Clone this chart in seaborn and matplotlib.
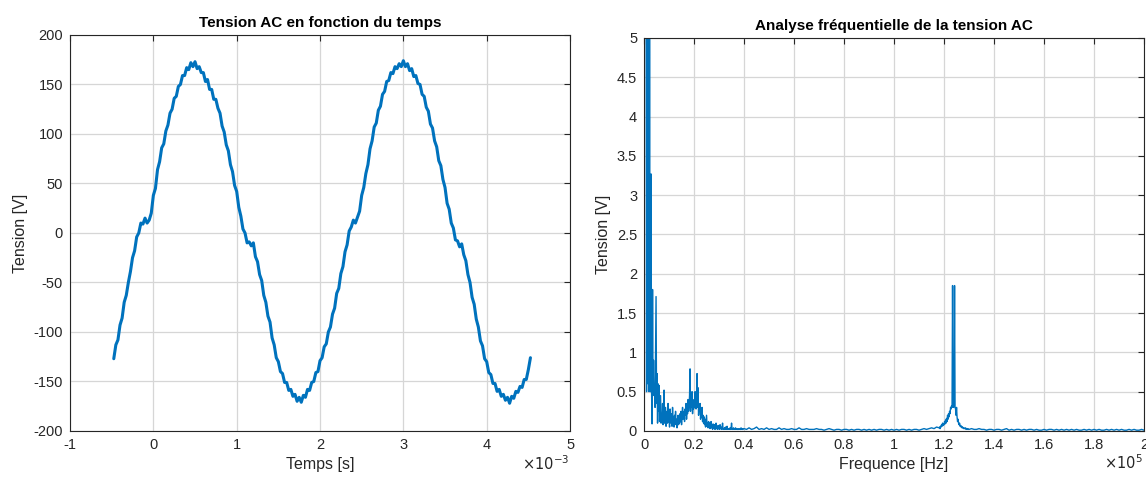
import numpy as np
import pandas as pd
import matplotlib
matplotlib.use("Agg")
import matplotlib.pyplot as plt
import seaborn as sns
from matplotlib.ticker import FuncFormatter, MultipleLocator

# ================================
# Tension AC (V), echantillons toutes les 0.025 ms de -0.475 ms a 4.525 ms
# ================================
t_debut, t_fin = -0.475e-3, 4.525e-3
tension = [
    -127, -113, -108, -93, -86, -70, -63, -50, -39, -25,
    -18, -4, 0, 10, 9, 15, 10, 13, 20, 38,
    45, 64, 72, 86, 90, 103, 109, 121, 125, 136,
    138, 148, 150, 159, 159, 167, 165, 172, 168, 173,
    166, 168, 162, 162, 153, 155, 145, 145, 135, 135,
    126, 121, 108, 102, 89, 83, 69, 62, 48, 42,
    26, 17, 4, 0, -10, -9, -13, -10, -24, -29,
    -42, -48, -63, -70, -84, -90, -106, -113, -126, -130,
    -140, -142, -151, -151, -159, -158, -165, -163, -170, -166,
    -171, -164, -166, -158, -159, -151, -150, -141, -140, -129,
    -126, -115, -112, -100, -95, -82, -76, -61, -56, -41,
    -34, -19, -12, 2, 6, 13, 10, 16, 22, 38,
    46, 60, 69, 85, 93, 107, 111, 124, 128, 140,
    143, 153, 154, 162, 161, 168, 166, 171, 168, 174,
    168, 171, 164, 166, 158, 159, 151, 150, 140, 138,
    127, 123, 110, 106, 93, 87, 73, 68, 54, 46,
    30, 24, 10, 5, -7, -8, -14, -11, -22, -28,
    -42, -50, -65, -72, -87, -95, -109, -114, -127, -130,
    -141, -143, -152, -152, -160, -158, -165, -163, -169, -166,
    -172, -165, -167, -160, -161, -155, -156, -148, -148, -138,
    -126,
]

# ================================
# Spectre (V) : 0-40 kHz pas 200 Hz, 40-117 kHz pas 1 kHz,
# 118-130 kHz pas 200 Hz, 130-200 kHz pas 1 kHz
# ================================
spectre_bas = [
    0.5, 8.5, 172.0, 9.0, 6.5, 0.5, 7.5, 5.6, 0.6, 6.2,
    0.5, 5.4, 0.9, 0.5, 3.27, 0.5, 0.09, 1.8, 0.5, 0.9,
    0.45, 0.6, 0.3, 1.0, 1.71, 0.35, 0.73, 0.1, 0.6, 0.25,
    0.58, 0.12, 0.3, 0.45, 0.1, 0.22, 0.15, 0.35, 0.08, 0.25,
    0.52, 0.1, 0.2, 0.3, 0.06, 0.18, 0.25, 0.1, 0.35, 0.12,
    0.2, 0.05, 0.28, 0.15, 0.1, 0.22, 0.06, 0.3, 0.12, 0.18,
    0.05, 0.2, 0.1, 0.25, 0.08, 0.15, 0.04, 0.12, 0.2, 0.08,
    0.15, 0.1, 0.22, 0.12, 0.25, 0.08, 0.18, 0.3, 0.15, 0.2,
    0.25, 0.12, 0.28, 0.2, 0.35, 0.15, 0.3, 0.22, 0.4, 0.25,
    0.3, 0.45, 0.79, 0.25, 0.4, 0.3, 0.5, 0.22, 0.35, 0.28,
    0.4, 0.3, 0.5, 0.35, 0.28, 0.45, 0.73, 0.3, 0.55, 0.2,
    0.32, 0.25, 0.35, 0.15, 0.28, 0.18, 0.3, 0.12, 0.2, 0.1,
    0.18, 0.08, 0.15, 0.05, 0.12, 0.2, 0.06, 0.1, 0.04, 0.12,
    0.06, 0.1, 0.03, 0.08, 0.12, 0.04, 0.07, 0.02, 0.09, 0.05,
    0.03, 0.08, 0.02, 0.06, 0.1, 0.03, 0.05, 0.02, 0.07, 0.03,
    0.04, 0.02, 0.08, 0.03, 0.05, 0.02, 0.04, 0.1, 0.02, 0.03,
    0.02, 0.04, 0.02, 0.05, 0.03, 0.02, 0.06, 0.02, 0.03, 0.02,
    0.03, 0.02, 0.04, 0.02, 0.03, 0.1, 0.02, 0.03, 0.02, 0.04,
    0.02, 0.03, 0.02, 0.04, 0.02, 0.03, 0.02, 0.02, 0.03, 0.02,
    0.02, 0.03, 0.02, 0.02, 0.04, 0.02, 0.03, 0.02, 0.02, 0.03,
]
spectre_milieu = [
    0.03, 0.02, 0.04, 0.02, 0.03, 0.05, 0.02, 0.03, 0.02, 0.04,
    0.02, 0.03, 0.02, 0.02, 0.04, 0.02, 0.03, 0.02, 0.02, 0.03,
    0.02, 0.02, 0.04, 0.02, 0.02, 0.03, 0.02, 0.02, 0.02, 0.03,
    0.02, 0.02, 0.01, 0.02, 0.03, 0.02, 0.01, 0.02, 0.02, 0.01,
    0.02, 0.02, 0.01, 0.02, 0.01, 0.02, 0.02, 0.01, 0.02, 0.01,
    0.02, 0.01, 0.02, 0.01, 0.02, 0.02, 0.01, 0.02, 0.01, 0.02,
    0.01, 0.02, 0.01, 0.02, 0.02, 0.01, 0.02, 0.01, 0.02, 0.02,
    0.01, 0.02, 0.03, 0.02, 0.03, 0.04, 0.03, 0.05,
]
spectre_pic = [
    0.04, 0.05, 0.03, 0.06, 0.05, 0.08, 0.06, 0.1, 0.07, 0.09,
    0.08, 0.12, 0.09, 0.14, 0.1, 0.16, 0.12, 0.2, 0.15, 0.22,
    0.18, 0.25, 0.22, 0.3, 0.28, 0.32, 0.3, 1.85, 0.35, 0.3,
    0.35, 1.85, 0.3, 0.28, 0.2, 0.3, 0.18, 0.12, 0.15, 0.1,
    0.08, 0.1, 0.06, 0.07, 0.05, 0.06, 0.04, 0.05, 0.04, 0.03,
    0.04, 0.03, 0.03, 0.04, 0.02, 0.03, 0.03, 0.02, 0.03, 0.02,
]
spectre_haut = [
    0.02, 0.03, 0.02, 0.02, 0.03, 0.02, 0.02, 0.01, 0.02, 0.02,
    0.01, 0.02, 0.02, 0.01, 0.02, 0.03, 0.01, 0.02, 0.01, 0.02,
    0.02, 0.01, 0.02, 0.01, 0.02, 0.02, 0.01, 0.02, 0.01, 0.01,
    0.02, 0.01, 0.02, 0.02, 0.01, 0.02, 0.01, 0.02, 0.01, 0.02,
    0.01, 0.02, 0.01, 0.02, 0.01, 0.01, 0.02, 0.01, 0.02, 0.01,
    0.02, 0.01, 0.02, 0.01, 0.01, 0.02, 0.01, 0.02, 0.01, 0.02,
    0.01, 0.02, 0.01, 0.01, 0.02, 0.01, 0.02, 0.01, 0.01, 0.02,
    0.01,
]

df_t = pd.DataFrame({
    "temps": np.linspace(t_debut, t_fin, len(tension)),
    "tension": tension,
})
freq = np.concatenate([
    np.linspace(0, 39.8, len(spectre_bas)),
    np.linspace(40, 117, len(spectre_milieu)),
    np.linspace(118, 129.8, len(spectre_pic)),
    np.linspace(130, 200, len(spectre_haut)),
]) * 1e3
df_f = pd.DataFrame({
    "freq": freq,
    "amp": spectre_bas + spectre_milieu + spectre_pic + spectre_haut,
})

sns.set_style("white")
plt.rcParams["font.family"] = ["Liberation Sans", "DejaVu Sans"]
plt.rcParams["axes.unicode_minus"] = False

bleu = "#0072BD"
gris = "#262626"

fig = plt.figure(figsize=(11.46, 4.83), dpi=100)
ax1 = fig.add_axes([0.0611, 0.1077, 0.4363, 0.8199])
ax2 = fig.add_axes([0.5620, 0.1077, 0.4363, 0.8137])

sns.lineplot(data=df_t, x="temps", y="tension", ax=ax1, color=bleu,
             linewidth=2.2, sort=False, estimator=None)
sns.lineplot(data=df_f, x="freq", y="amp", ax=ax2, color=bleu,
             linewidth=1.0, sort=False, estimator=None)

ax1.set_xlim(-1e-3, 5e-3)
ax1.set_ylim(-200, 200)
ax1.xaxis.set_major_locator(MultipleLocator(1e-3))
ax1.yaxis.set_major_locator(MultipleLocator(50))
ax1.xaxis.set_major_formatter(FuncFormatter(lambda v, p: f"{v * 1e3:g}"))
ax1.yaxis.set_major_formatter(FuncFormatter(lambda v, p: f"{v:g}"))

ax2.set_xlim(0, 2e5)
ax2.set_ylim(0, 5)
ax2.xaxis.set_major_locator(MultipleLocator(0.2e5))
ax2.yaxis.set_major_locator(MultipleLocator(0.5))
ax2.xaxis.set_major_formatter(FuncFormatter(lambda v, p: f"{v / 1e5:g}"))
ax2.yaxis.set_major_formatter(FuncFormatter(lambda v, p: f"{v:g}"))

for ax, titre, xl, expo in [
    (ax1, "Tension AC en fonction du temps", "Temps [s]", r"$\times10^{-3}$"),
    (ax2, "Analyse fréquentielle de la tension AC", "Frequence [Hz]", r"$\times10^{5}$"),
]:
    ax.grid(True, color="#d6d6d6", linewidth=0.9)
    ax.set_axisbelow(True)
    for s in ax.spines.values():
        s.set_color(gris)
        s.set_linewidth(0.8)
        s.set_visible(True)
    ax.tick_params(direction="in", length=4, width=0.8, colors=gris,
                   labelsize=10.5, top=True, right=True, pad=5)
    ax.set_title(titre, fontsize=11, fontweight="bold", color="black", pad=6)
    ax.set_xlabel(xl, fontsize=11.5, color=gris, labelpad=4)
    ax.set_ylabel("Tension [V]", fontsize=11.5, color=gris, labelpad=4)
    ax.text(0.998, -0.058, expo, transform=ax.transAxes, ha="right", va="top",
            fontsize=10.5, color=gris)

fig.savefig("out.png", dpi=100)
